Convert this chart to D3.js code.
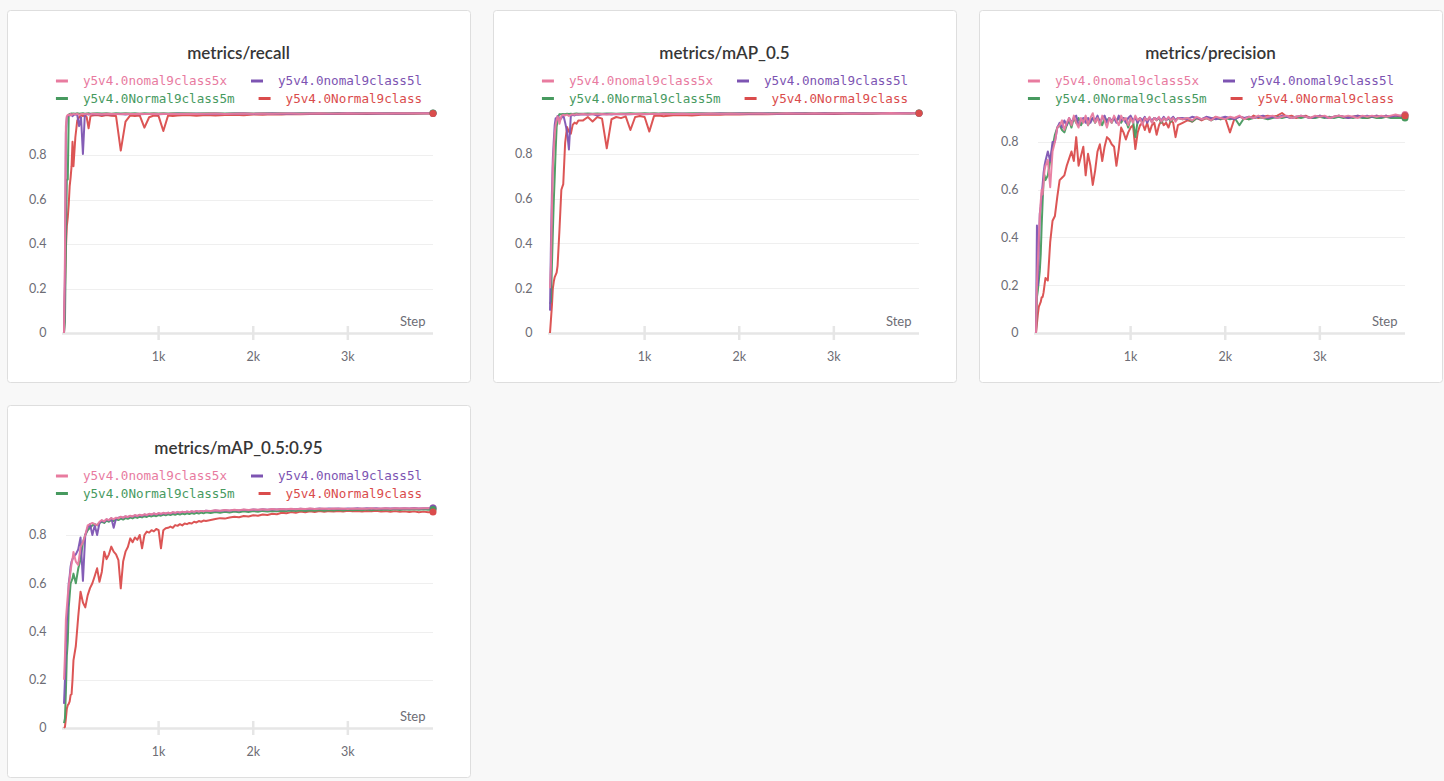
<!DOCTYPE html>
<html><head><meta charset="utf-8">
<script src="https://cdn.jsdelivr.net/npm/d3@7"></script>
<style>
html,body{margin:0;padding:0;background:#f8f8f8;}
svg{display:block;}
</style></head><body>
<svg id="chart" width="1444" height="781"></svg>
<script>
// ---------- data ----------
const runNames = ["y5v4.0nomal9class5x", "y5v4.0nomal9class5l", "y5v4.0Normal9class5m", "y5v4.0Normal9class"];
const runColors = ["#E87B9F", "#7D54B2", "#479A5F", "#DA4C4C"];
const chartTitles = ["metrics/recall", "metrics/mAP_0.5", "metrics/precision", "metrics/mAP_0.5:0.95"];
const xTickValues = [1000, 2000, 3000];
const xTickLabels = ["1k", "2k", "3k"];
const xLabel = "Step";

const stepsA = [0,10,20,30,40,50,60,70,80,90,100,
  120,140,160,180,200,220,240,260,280,300,
  350,400,450,500,550,600,650,700,750,
  800,850,900,950,1000,1050,1100,1150,1200,
  1300,1400,1500,1600,1700,1800,1900,2000,2100,
  2200,2300,2400,2500,2600,2700,2800,2900,3000,
  3100,3200,3300,3400,3500,3600,3700,3800,3900];

const stepsB = [0,10,20,30,40,50,60,70,80,90,100,
  125,150,175,200,225,250,275,300,
  325,350,375,400,425,450,475,500,
  525,550,575,600,625,650,675,700,
  725,750,775,800,825,850,875,900,
  925,950,975,1000,1025,1050,1075,1100,
  1125,1150,1175,1200,1225,1250,1275,1300,
  1325,1350,1375,1400,1425,1450,1475,1500,
  1550,1600,1650,1700,1750,1800,1850,1900,
  1950,2000,2050,2100,2150,2200,2250,2300,
  2350,2400,2450,2500,2550,2600,2650,2700,
  2750,2800,2850,2900,2950,3000,3050,3100,
  3150,3200,3250,3300,3350,3400,3450,3500,
  3550,3600,3650,3700,3750,3800,3850,3900];

// metrics/recall (stepsA)
const recall5x = [0,0.35,0.93,0.975,0.98,0.982,0.978,0.984,0.98,0.983,0.985,
  0.982,0.986,0.98,0.984,0.985,0.983,0.986,0.984,0.982,0.986,
  0.985,0.983,0.986,0.984,0.985,0.983,0.986,0.984,0.985,
  0.986,0.984,0.985,0.986,0.984,0.986,0.985,0.986,0.985,
  0.986,0.985,0.986,0.987,0.985,0.986,0.987,0.986,0.987,
  0.986,0.987,0.987,0.986,0.987,0.988,0.987,0.987,0.988,
  0.987,0.988,0.988,0.987,0.988,0.988,0.988,0.988,0.988];
const recall5l = [0,0.25,0.9,0.97,0.975,0.98,0.978,0.982,0.98,0.975,0.98,
  0.983,0.98,0.93,0.97,0.805,0.98,0.984,0.982,0.985,0.983,
  0.984,0.982,0.985,0.983,0.984,0.985,0.982,0.984,0.985,
  0.983,0.985,0.984,0.985,0.983,0.985,0.984,0.985,0.986,
  0.985,0.986,0.984,0.986,0.985,0.986,0.987,0.985,0.986,
  0.987,0.986,0.987,0.986,0.987,0.987,0.986,0.987,0.988,
  0.987,0.987,0.988,0.987,0.988,0.987,0.988,0.988,0.988];
const recall5m = [0,0.05,0.4,0.69,0.69,0.98,0.985,0.986,0.987,0.985,0.987,
  0.986,0.988,0.986,0.987,0.988,0.986,0.987,0.988,0.986,0.987,
  0.988,0.987,0.988,0.986,0.988,0.987,0.988,0.987,0.988,
  0.986,0.988,0.987,0.988,0.987,0.988,0.987,0.988,0.988,
  0.988,0.987,0.988,0.988,0.987,0.988,0.988,0.987,0.988,
  0.988,0.988,0.987,0.988,0.988,0.988,0.988,0.989,0.988,
  0.988,0.989,0.988,0.988,0.989,0.988,0.989,0.988,0.989];
const recallBase = [0,0.2,0.38,0.48,0.52,0.58,0.66,0.7,0.75,0.86,0.75,
  0.88,0.955,0.97,0.98,0.975,0.98,0.97,0.92,0.975,0.978,
  0.98,0.975,0.98,0.977,0.975,0.82,0.95,0.978,0.975,
  0.978,0.923,0.97,0.978,0.975,0.908,0.978,0.975,0.978,
  0.98,0.977,0.98,0.978,0.98,0.981,0.979,0.982,0.981,
  0.983,0.982,0.984,0.983,0.984,0.985,0.984,0.985,0.985,
  0.986,0.985,0.986,0.986,0.986,0.987,0.986,0.987,0.987];

// metrics/mAP_0.5 (stepsA)
const map50_5x = [0.2,0.3,0.55,0.74,0.82,0.89,0.93,0.95,0.967,0.96,0.935,
  0.97,0.975,0.972,0.976,0.97,0.975,0.977,0.975,0.978,0.976,
  0.978,0.976,0.979,0.977,0.978,0.976,0.979,0.978,0.979,
  0.977,0.979,0.978,0.98,0.978,0.979,0.98,0.978,0.98,
  0.979,0.98,0.979,0.98,0.981,0.98,0.981,0.98,0.981,
  0.981,0.98,0.981,0.982,0.981,0.981,0.982,0.981,0.982,
  0.982,0.981,0.982,0.982,0.982,0.983,0.982,0.982,0.983];
const map50_5l = [0.1,0.4,0.62,0.78,0.86,0.93,0.96,0.95,0.97,0.965,0.95,
  0.96,0.975,0.94,0.9,0.82,0.97,0.975,0.972,0.976,0.975,
  0.977,0.975,0.978,0.972,0.977,0.978,0.976,0.978,0.977,
  0.979,0.977,0.978,0.979,0.977,0.979,0.978,0.979,0.98,
  0.979,0.98,0.979,0.98,0.98,0.981,0.98,0.981,0.98,
  0.981,0.981,0.98,0.981,0.982,0.981,0.981,0.982,0.981,
  0.982,0.982,0.981,0.982,0.982,0.982,0.983,0.982,0.982];
const map50_5m = [0.13,0.14,0.3,0.45,0.59,0.7,0.82,0.92,0.95,0.97,0.978,
  0.977,0.979,0.978,0.98,0.979,0.98,0.979,0.98,0.981,0.98,
  0.98,0.981,0.98,0.981,0.98,0.981,0.981,0.98,0.981,
  0.981,0.982,0.981,0.981,0.982,0.981,0.982,0.981,0.982,
  0.982,0.981,0.982,0.982,0.981,0.982,0.982,0.982,0.983,
  0.982,0.982,0.983,0.982,0.982,0.983,0.982,0.983,0.983,
  0.982,0.983,0.983,0.982,0.983,0.983,0.983,0.982,0.983];
const map50Base = [0,0.06,0.12,0.2,0.23,0.25,0.26,0.27,0.3,0.38,0.46,
  0.64,0.665,0.85,0.92,0.9,0.89,0.93,0.94,0.935,0.95,
  0.95,0.965,0.945,0.965,0.958,0.825,0.955,0.965,0.96,
  0.968,0.907,0.965,0.97,0.965,0.9,0.97,0.972,0.968,
  0.973,0.974,0.972,0.975,0.976,0.975,0.977,0.976,0.977,
  0.978,0.977,0.978,0.979,0.978,0.979,0.979,0.98,0.979,
  0.98,0.98,0.981,0.98,0.981,0.981,0.982,0.981,0.982];

// metrics/precision (stepsB)
const prec5x = [0,0.21,0.3,0.4,0.49,0.55,0.6,0.58,0.63,0.68,0.7,
  0.725,0.61,0.76,0.8,0.86,0.87,0.89,0.85,
  0.88,0.9,0.87,0.91,0.88,0.86,0.9,0.88,
  0.91,0.87,0.9,0.92,0.88,0.9,0.87,0.91,
  0.89,0.86,0.9,0.88,0.91,0.89,0.87,0.91,
  0.89,0.9,0.87,0.9,0.88,0.91,0.89,0.9,
  0.87,0.9,0.89,0.905,0.88,0.9,0.89,0.905,
  0.885,0.9,0.89,0.905,0.89,0.9,0.885,0.9,
  0.895,0.9,0.89,0.905,0.895,0.9,0.89,0.905,
  0.9,0.895,0.905,0.9,0.91,0.895,0.905,0.9,
  0.91,0.9,0.905,0.91,0.9,0.905,0.91,0.9,
  0.905,0.91,0.905,0.9,0.91,0.905,0.91,0.9,
  0.905,0.91,0.905,0.91,0.905,0.9,0.91,0.905,
  0.91,0.905,0.91,0.905,0.91,0.915,0.91,0.915];
const prec5l = [0,0.45,0.2,0.35,0.5,0.53,0.58,0.62,0.67,0.7,0.72,
  0.76,0.72,0.8,0.8,0.86,0.88,0.86,0.89,
  0.87,0.9,0.88,0.9,0.91,0.87,0.89,0.9,
  0.88,0.9,0.88,0.9,0.89,0.91,0.88,0.9,
  0.91,0.88,0.9,0.89,0.9,0.88,0.91,0.89,
  0.9,0.88,0.9,0.91,0.89,0.9,0.88,0.9,
  0.89,0.905,0.88,0.9,0.89,0.9,0.895,0.9,
  0.89,0.905,0.89,0.9,0.895,0.905,0.89,0.9,
  0.9,0.895,0.905,0.9,0.895,0.905,0.9,0.895,
  0.9,0.905,0.9,0.895,0.905,0.9,0.905,0.9,
  0.905,0.91,0.9,0.905,0.9,0.91,0.905,0.9,
  0.905,0.91,0.905,0.9,0.905,0.91,0.905,0.9,
  0.905,0.91,0.905,0.9,0.905,0.91,0.905,0.91,
  0.905,0.91,0.905,0.91,0.905,0.91,0.91,0.91];
const prec5m = [0,0.15,0.18,0.22,0.26,0.33,0.45,0.55,0.64,0.66,0.64,
  0.66,0.72,0.78,0.83,0.86,0.87,0.85,0.84,
  0.87,0.89,0.86,0.9,0.88,0.9,0.87,0.89,
  0.9,0.87,0.89,0.9,0.88,0.9,0.89,0.87,
  0.9,0.89,0.9,0.88,0.9,0.89,0.9,0.88,
  0.9,0.89,0.86,0.9,0.89,0.82,0.89,0.9,
  0.88,0.9,0.89,0.9,0.885,0.9,0.89,0.9,
  0.88,0.9,0.89,0.9,0.885,0.9,0.89,0.9,
  0.895,0.9,0.885,0.9,0.895,0.9,0.89,0.9,
  0.895,0.9,0.895,0.9,0.87,0.9,0.895,0.9,
  0.905,0.9,0.895,0.9,0.905,0.9,0.905,0.9,
  0.905,0.9,0.905,0.9,0.9,0.905,0.9,0.905,
  0.9,0.905,0.9,0.905,0.9,0.905,0.9,0.9,
  0.905,0.9,0.9,0.905,0.9,0.9,0.9,0.9];
const precBase = [0,0.04,0.08,0.11,0.12,0.13,0.15,0.15,0.17,0.2,0.23,
  0.22,0.38,0.47,0.49,0.57,0.64,0.65,0.66,
  0.7,0.73,0.76,0.72,0.82,0.7,0.74,0.78,
  0.66,0.75,0.7,0.62,0.68,0.76,0.79,0.72,
  0.78,0.82,0.81,0.79,0.78,0.7,0.77,0.86,
  0.84,0.81,0.84,0.86,0.87,0.77,0.84,0.87,
  0.88,0.85,0.88,0.84,0.87,0.88,0.83,0.87,
  0.89,0.87,0.88,0.86,0.89,0.88,0.82,0.87,
  0.88,0.89,0.885,0.9,0.89,0.9,0.895,0.905,
  0.895,0.9,0.84,0.9,0.905,0.9,0.895,0.91,
  0.9,0.905,0.91,0.905,0.91,0.921,0.905,0.91,
  0.9,0.905,0.91,0.9,0.905,0.91,0.905,0.9,
  0.905,0.91,0.905,0.9,0.905,0.91,0.905,0.9,
  0.905,0.91,0.905,0.91,0.905,0.91,0.905,0.91];

// metrics/mAP_0.5:0.95 (stepsB)
const map95_5x = [0.2,0.3,0.45,0.5,0.55,0.59,0.62,0.65,0.68,0.7,0.73,
  0.69,0.676,0.75,0.77,0.8,0.84,0.845,0.85,
  0.845,0.841,0.855,0.862,0.857,0.866,0.862,0.87,
  0.866,0.872,0.869,0.876,0.872,0.878,0.875,0.88,
  0.877,0.883,0.879,0.884,0.881,0.886,0.883,0.888,
  0.885,0.89,0.886,0.891,0.888,0.892,0.889,0.893,
  0.89,0.895,0.892,0.896,0.893,0.897,0.894,0.898,
  0.895,0.899,0.896,0.9,0.897,0.9,0.898,0.901,
  0.9,0.903,0.901,0.904,0.902,0.905,0.903,0.906,
  0.904,0.906,0.905,0.907,0.905,0.908,0.906,0.908,
  0.907,0.909,0.907,0.909,0.908,0.91,0.908,0.909,
  0.91,0.908,0.91,0.909,0.91,0.908,0.91,0.909,
  0.91,0.909,0.911,0.909,0.91,0.911,0.909,0.911,
  0.91,0.911,0.91,0.911,0.91,0.911,0.911,0.912];
const map95_5l = [0.1,0.2,0.35,0.44,0.5,0.6,0.63,0.67,0.69,0.7,0.71,
  0.72,0.74,0.79,0.61,0.8,0.83,0.845,0.8,
  0.84,0.8,0.85,0.86,0.855,0.865,0.86,0.87,
  0.83,0.868,0.872,0.875,0.871,0.877,0.874,0.879,
  0.876,0.881,0.878,0.883,0.879,0.885,0.881,0.887,
  0.884,0.889,0.885,0.89,0.886,0.891,0.888,0.892,
  0.889,0.894,0.891,0.895,0.892,0.896,0.894,0.897,
  0.895,0.898,0.896,0.899,0.897,0.9,0.898,0.901,
  0.899,0.902,0.9,0.903,0.901,0.904,0.902,0.905,
  0.903,0.906,0.904,0.907,0.905,0.907,0.906,0.908,
  0.906,0.908,0.907,0.909,0.907,0.909,0.908,0.91,
  0.908,0.91,0.909,0.91,0.908,0.91,0.909,0.911,
  0.909,0.911,0.91,0.911,0.909,0.911,0.91,0.911,
  0.91,0.911,0.91,0.912,0.91,0.911,0.911,0.912];
const map95_5m = [0.02,0.04,0.15,0.3,0.36,0.5,0.55,0.6,0.61,0.62,0.64,
  0.6,0.66,0.7,0.77,0.8,0.82,0.83,0.84,
  0.845,0.84,0.85,0.855,0.85,0.86,0.855,0.862,
  0.858,0.865,0.862,0.868,0.864,0.87,0.867,0.872,
  0.869,0.874,0.871,0.876,0.873,0.878,0.875,0.88,
  0.877,0.881,0.878,0.883,0.88,0.885,0.882,0.886,
  0.883,0.887,0.884,0.888,0.885,0.889,0.886,0.89,
  0.887,0.891,0.888,0.892,0.889,0.893,0.89,0.894,
  0.891,0.895,0.892,0.896,0.893,0.897,0.894,0.898,
  0.895,0.899,0.896,0.9,0.897,0.9,0.898,0.901,
  0.899,0.902,0.9,0.903,0.9,0.903,0.901,0.904,
  0.901,0.904,0.902,0.905,0.902,0.905,0.903,0.905,
  0.903,0.906,0.903,0.906,0.904,0.906,0.904,0.907,
  0.904,0.907,0.905,0.907,0.905,0.907,0.905,0.906];
const map95Base = [0,0.005,0.04,0.08,0.095,0.1,0.11,0.137,0.14,0.2,0.28,
  0.34,0.46,0.565,0.52,0.5,0.55,0.58,0.6,
  0.63,0.662,0.606,0.648,0.731,0.7,0.72,0.752,
  0.731,0.72,0.696,0.579,0.69,0.731,0.75,0.786,
  0.77,0.79,0.78,0.8,0.745,0.8,0.814,0.81,
  0.82,0.815,0.825,0.82,0.745,0.82,0.828,0.83,
  0.835,0.83,0.841,0.838,0.845,0.84,0.848,0.845,
  0.85,0.848,0.855,0.852,0.858,0.855,0.86,0.858,
  0.862,0.866,0.87,0.868,0.873,0.876,0.874,0.879,
  0.877,0.882,0.88,0.885,0.883,0.888,0.886,0.892,
  0.89,0.895,0.892,0.897,0.894,0.898,0.895,0.899,
  0.896,0.899,0.897,0.9,0.897,0.901,0.898,0.9,
  0.897,0.9,0.898,0.901,0.897,0.899,0.896,0.899,
  0.896,0.898,0.895,0.898,0.894,0.897,0.894,0.895];

// ---------- layout ----------
const panels = [
  {title: chartTitles[0], steps: stepsA, series: [recall5x, recall5l, recall5m, recallBase], x: 7, y: 10},
  {title: chartTitles[1], steps: stepsA, series: [map50_5x, map50_5l, map50_5m, map50Base], x: 493, y: 10},
  {title: chartTitles[2], steps: stepsB, series: [prec5x, prec5l, prec5m, precBase], x: 979, y: 10},
  {title: chartTitles[3], steps: stepsB, series: [map95_5x, map95_5l, map95_5m, map95Base], x: 7, y: 405}
];
const W = 464, H = 373;
const plot = {left: 57, right: 426, top: 103, bottom: 323};

const svg = d3.select("#chart");
svg.append("rect").attr("width", 1444).attr("height", 781).attr("fill", "#f8f8f8");

panels.forEach(p => {
  const g = svg.append("g").attr("transform", `translate(${p.x},${p.y})`);
  g.append("rect").attr("x", 0.5).attr("y", 0.5).attr("width", W - 1).attr("height", H - 1)
    .attr("rx", 3).attr("fill", "#fff").attr("stroke", "#dedede");

  g.append("text").attr("x", W / 2 - 0.5).attr("y", 49).attr("text-anchor", "middle")
    .attr("font-family", "Lato, 'Open Sans', sans-serif").attr("font-weight", 600)
    .attr("font-size", 17).attr("fill", "#363636").text(p.title);

  // legend (centered rows, two items per row)
  const leg = g.append("g");
  const items = runNames.map((n, i) => {
    const it = leg.append("g");
    it.append("line").attr("x1", 0).attr("x2", 12).attr("y1", 0).attr("y2", 0)
      .attr("stroke", runColors[i]).attr("stroke-width", 3);
    const t = it.append("text").attr("x", 27).attr("y", 0).attr("dy", "0.35em")
      .attr("font-family", "'DejaVu Sans Mono', monospace").attr("font-size", 12.6)
      .attr("fill", runColors[i]).text(n);
    return {g: it, w: 27 + t.node().getComputedTextLength()};
  });
  const gap = 24, rowY = [71, 88.5];
  [[0, 1], [2, 3]].forEach((row, r) => {
    const total = d3.sum(row, k => items[k].w) + gap * (row.length - 1);
    let cx = W / 2 - total / 2;
    row.forEach(k => {
      items[k].g.attr("transform", `translate(${cx},${rowY[r]})`);
      cx += items[k].w + gap;
    });
  });

  // scales
  const all = p.series.flat();
  const x = d3.scaleLinear().domain([0, d3.max(p.steps)]).range([plot.left, plot.right]);
  const y = d3.scaleLinear().domain([0, d3.max(all)]).range([plot.bottom, plot.top]);

  const yt = y.ticks(5);
  g.append("g").selectAll("line").data(yt.filter(d => d > 0)).join("line")
    .attr("x1", plot.left + 2).attr("x2", plot.right)
    .attr("y1", d => Math.round(y(d)) + 0.5).attr("y2", d => Math.round(y(d)) + 0.5)
    .attr("stroke", "#efefef").attr("stroke-width", 1);
  g.append("g").selectAll("text").data(yt).join("text")
    .attr("x", 39.5).attr("y", d => y(d)).attr("dy", "0.35em").attr("text-anchor", "end")
    .attr("font-family", "Lato, sans-serif").attr("font-size", 12.5).attr("fill", "#6d6d75")
    .text(d => d3.format("~g")(d));

  // x axis
  g.append("line").attr("x1", plot.left - 2).attr("x2", plot.right)
    .attr("y1", plot.bottom + 0.5).attr("y2", plot.bottom + 0.5)
    .attr("stroke", "#e6e6e6").attr("stroke-width", 2.5);
  g.append("g").selectAll("line").data(xTickValues).join("line")
    .attr("x1", d => x(d)).attr("x2", d => x(d)).attr("y1", plot.bottom - 7).attr("y2", plot.bottom + 7)
    .attr("stroke", "#e6e6e6").attr("stroke-width", 2.5);
  g.append("g").selectAll("text").data(xTickValues).join("text")
    .attr("x", d => x(d)).attr("y", plot.bottom + 24).attr("dy", "0.35em").attr("text-anchor", "middle")
    .attr("font-family", "Lato, sans-serif").attr("font-size", 12.5).attr("fill", "#6d6d75")
    .text((d, i) => xTickLabels[i]);
  g.append("text").attr("x", plot.right - 7.5).attr("y", plot.bottom - 11.5).attr("dy", "0.35em")
    .attr("text-anchor", "end").attr("font-family", "Lato, sans-serif").attr("font-size", 13)
    .attr("fill", "#6d6d75").text(xLabel);

  // lines: base run first, first run on top
  const line = d3.line().x(d => x(d[0])).y(d => y(d[1]));
  const order = [3, 2, 1, 0];
  const lg = g.append("g");
  order.forEach(i => {
    const vals = p.series[i];
    const pts = p.steps.map((s, k) => [s, vals[k]]).filter(d => d[1] !== undefined);
    lg.append("path").datum(pts).attr("d", line).attr("fill", "none")
      .attr("stroke", runColors[i]).attr("stroke-width", 2).attr("stroke-linejoin", "round")
      .attr("stroke-opacity", 0.95);
  });
  [0, 1, 2, 3].forEach(i => {
    const vals = p.series[i];
    const n = Math.min(vals.length, p.steps.length) - 1;
    lg.append("circle").attr("cx", x(p.steps[n])).attr("cy", y(vals[n])).attr("r", 3.5)
      .attr("fill", runColors[i]);
  });
});
</script>
</body></html>
